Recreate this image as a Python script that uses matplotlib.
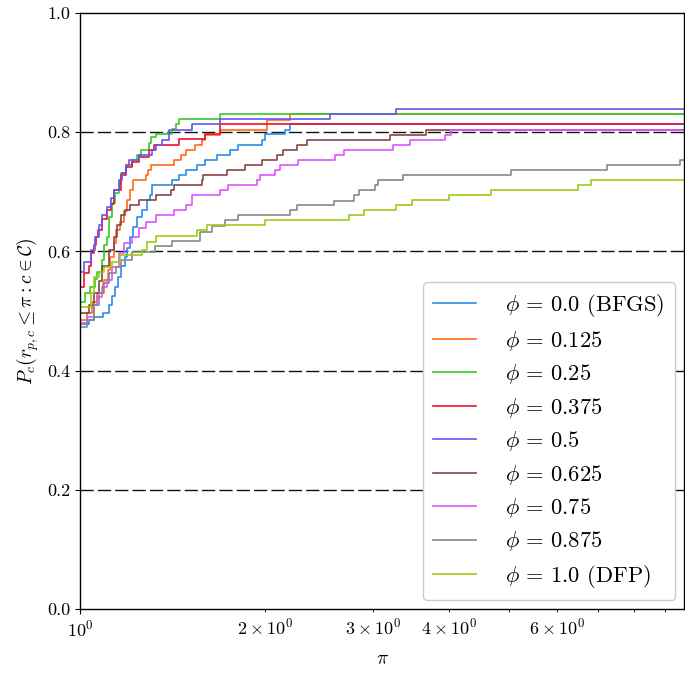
import matplotlib
matplotlib.use("Agg")
import matplotlib.pyplot as plt
import numpy as np

plt.rcParams['mathtext.fontset'] = 'cm'
plt.rcParams['font.family'] = 'serif'
plt.rcParams['font.serif'] = ['cmr10', 'DejaVu Serif']
plt.rcParams['axes.formatter.use_mathtext'] = True

X_MAX = 9.65

labels = [r'$\phi\,=\,0.0$ (BFGS)', r'$\phi\,=\,0.125$', r'$\phi\,=\,0.25$', r'$\phi\,=\,0.375$',
          r'$\phi\,=\,0.5$', r'$\phi\,=\,0.625$', r'$\phi\,=\,0.75$', r'$\phi\,=\,0.875$',
          r'$\phi\,=\,1.0$ (DFP)']
colors = ['#2b8ce8', '#ff6a1a', '#33cc22', '#ee1133', '#6655ee', '#884444',
          '#dd55ff', '#888888', '#99cc11']

x_bfgs = [1.0, 1.034, 1.054, 1.091, 1.115, 1.128, 1.141, 1.154, 1.167, 1.185, 1.194, 1.207,
          1.221, 1.240, 1.263, 1.287, 1.302, 1.311, 1.414, 1.452, 1.491, 1.549, 1.596, 1.670,
          1.754, 1.807, 1.978, 2.001, 2.157, 2.198]
y_bfgs = [0.478, 0.485, 0.49, 0.497, 0.51, 0.525, 0.54, 0.557, 0.575, 0.59, 0.605, 0.625,
          0.641, 0.658, 0.669, 0.686, 0.695, 0.711, 0.72, 0.728, 0.737, 0.745, 0.753, 0.762,
          0.770, 0.779, 0.787, 0.797, 0.804, 0.813]

x_0125 = [1.0, 1.027, 1.046, 1.066, 1.095, 1.111, 1.120, 1.137, 1.145, 1.163, 1.180, 1.194,
          1.207, 1.221, 1.282, 1.292, 1.307, 1.425, 1.463, 1.491, 1.537, 1.578, 1.596, 1.689,
          2.016, 2.198]
y_0125 = [0.485, 0.497, 0.515, 0.53, 0.552, 0.569, 0.59, 0.614, 0.636, 0.649, 0.668, 0.686,
          0.703, 0.72, 0.728, 0.737, 0.745, 0.753, 0.762, 0.770, 0.779, 0.787, 0.795, 0.804,
          0.82, 0.831]

x_025 = [1.0, 1.019, 1.038, 1.058, 1.066, 1.086, 1.095, 1.107, 1.115, 1.128, 1.141, 1.158,
         1.167, 1.189, 1.216, 1.240, 1.258, 1.297, 1.307, 1.331, 1.414, 1.436, 1.452, 1.689]
y_025 = [0.515, 0.53, 0.54, 0.553, 0.565, 0.586, 0.611, 0.624, 0.658, 0.681, 0.698, 0.715,
         0.731, 0.745, 0.753, 0.762, 0.770, 0.782, 0.792, 0.797, 0.805, 0.814, 0.822, 0.831]

x_0375 = [1.0, 1.015, 1.034, 1.042, 1.054, 1.062, 1.070, 1.086, 1.107, 1.124, 1.137, 1.167,
          1.189, 1.216, 1.249, 1.297, 1.321, 1.452, 1.596, 1.689]
y_0375 = [0.54, 0.564, 0.575, 0.597, 0.611, 0.625, 0.636, 0.655, 0.67, 0.68, 0.703, 0.728,
          0.742, 0.75, 0.758, 0.77, 0.779, 0.788, 0.797, 0.814]

x_05 = [1.0, 1.015, 1.042, 1.058, 1.074, 1.086, 1.107, 1.124, 1.137, 1.158, 1.171, 1.189,
        1.203, 1.249, 1.311, 1.331, 1.362, 1.398, 1.525, 1.689, 2.556, 3.278]
y_05 = [0.566, 0.582, 0.602, 0.625, 0.645, 0.661, 0.675, 0.69, 0.703, 0.72, 0.731, 0.745,
        0.753, 0.762, 0.770, 0.779, 0.787, 0.804, 0.814, 0.822, 0.831, 0.839]

x_0625 = [1.0, 1.034, 1.054, 1.074, 1.086, 1.115, 1.137, 1.150, 1.167, 1.185, 1.207, 1.249,
          1.331, 1.409, 1.425, 1.578, 1.584, 1.734, 1.855, 1.978, 2.093, 2.141, 2.257, 2.344,
          3.204, 3.670]
y_0625 = [0.497, 0.51, 0.53, 0.55, 0.575, 0.602, 0.625, 0.645, 0.661, 0.669, 0.678, 0.686,
          0.695, 0.703, 0.711, 0.72, 0.728, 0.737, 0.745, 0.753, 0.762, 0.770, 0.779, 0.787,
          0.795, 0.804]

x_075 = [1.0, 1.027, 1.054, 1.066, 1.086, 1.107, 1.128, 1.158, 1.180, 1.216, 1.249, 1.282,
         1.331, 1.425, 1.491, 1.525, 1.689, 1.740, 1.942, 1.963, 2.078, 2.117, 2.266, 2.605,
         2.694, 3.241, 3.455, 3.942, 4.018]
y_075 = [0.48, 0.49, 0.51, 0.523, 0.54, 0.552, 0.574, 0.597, 0.614, 0.625, 0.639, 0.649,
         0.661, 0.669, 0.678, 0.695, 0.703, 0.711, 0.72, 0.728, 0.737, 0.745, 0.753, 0.762,
         0.770, 0.779, 0.787, 0.795, 0.804]

x_0875 = [1.0, 1.027, 1.054, 1.074, 1.091, 1.115, 1.145, 1.167, 1.216, 1.326, 1.414, 1.566,
          1.644, 1.721, 1.807, 2.198, 2.257, 2.595, 2.798, 2.851, 3.028, 3.063, 3.365, 5.037,
          7.234, 9.522]
y_0875 = [0.473, 0.485, 0.51, 0.53, 0.547, 0.564, 0.574, 0.586, 0.599, 0.609, 0.617, 0.633,
          0.643, 0.652, 0.661, 0.669, 0.678, 0.685, 0.695, 0.703, 0.711, 0.72, 0.728, 0.737,
          0.745, 0.753]

x_dfp = [1.0, 1.042, 1.054, 1.074, 1.095, 1.128, 1.163, 1.263, 1.287, 1.331, 1.554, 1.608,
         2.001, 2.746, 2.905, 3.278, 3.481, 4.002, 4.671, 6.483, 6.809]
y_dfp = [0.507, 0.53, 0.557, 0.565, 0.574, 0.582, 0.594, 0.602, 0.616, 0.626, 0.636, 0.644,
         0.652, 0.661, 0.669, 0.678, 0.686, 0.695, 0.703, 0.711, 0.72]

series_x = [x_bfgs, x_0125, x_025, x_0375, x_05, x_0625, x_075, x_0875, x_dfp]
series_y = [y_bfgs, y_0125, y_025, y_0375, y_05, y_0625, y_075, y_0875, y_dfp]

yticks = [0.0, 0.2, 0.4, 0.6, 0.8, 1.0]

fig = plt.figure(figsize=(6.85, 6.75), dpi=100)
ax = fig.add_axes([80/685, 66/675, 604/685, 596/675])

for yv in yticks[1:-1]:
    ax.axhline(yv, color='#111111', lw=1.0, dashes=(9.5, 3.0), zorder=1)

for xs, ys, lab, col in zip(series_x, series_y, labels, colors):
    xx = list(xs) + [X_MAX]
    yy = list(ys) + [ys[-1]]
    ax.step(xx, yy, where='post', color=col, lw=1.2, label=lab, zorder=2)

ax.set_xscale('log')
ax.set_xlim(1.0, X_MAX)
ax.set_ylim(0.0, 1.0)
ax.set_yticks(yticks)
ax.set_yticklabels([f'{v:.1f}' for v in yticks])
ax.tick_params(which='both', labelsize=13)
ax.set_xlabel(r'$\pi$', fontsize=14, labelpad=8)
ax.set_ylabel(r'$P_c(r_{p,c} \leq \pi : c \in \mathcal{C})$', fontsize=14)
for s in ax.spines.values():
    s.set_linewidth(1.0)

leg = ax.legend(loc='lower right', fontsize=16.2, framealpha=1.0, fancybox=True,
                handlelength=1.9, labelspacing=0.42, borderpad=0.45, handletextpad=1.3,
                borderaxespad=0.4)
leg.get_frame().set_edgecolor('#cccccc')

fig.savefig('out.png', dpi=100)
